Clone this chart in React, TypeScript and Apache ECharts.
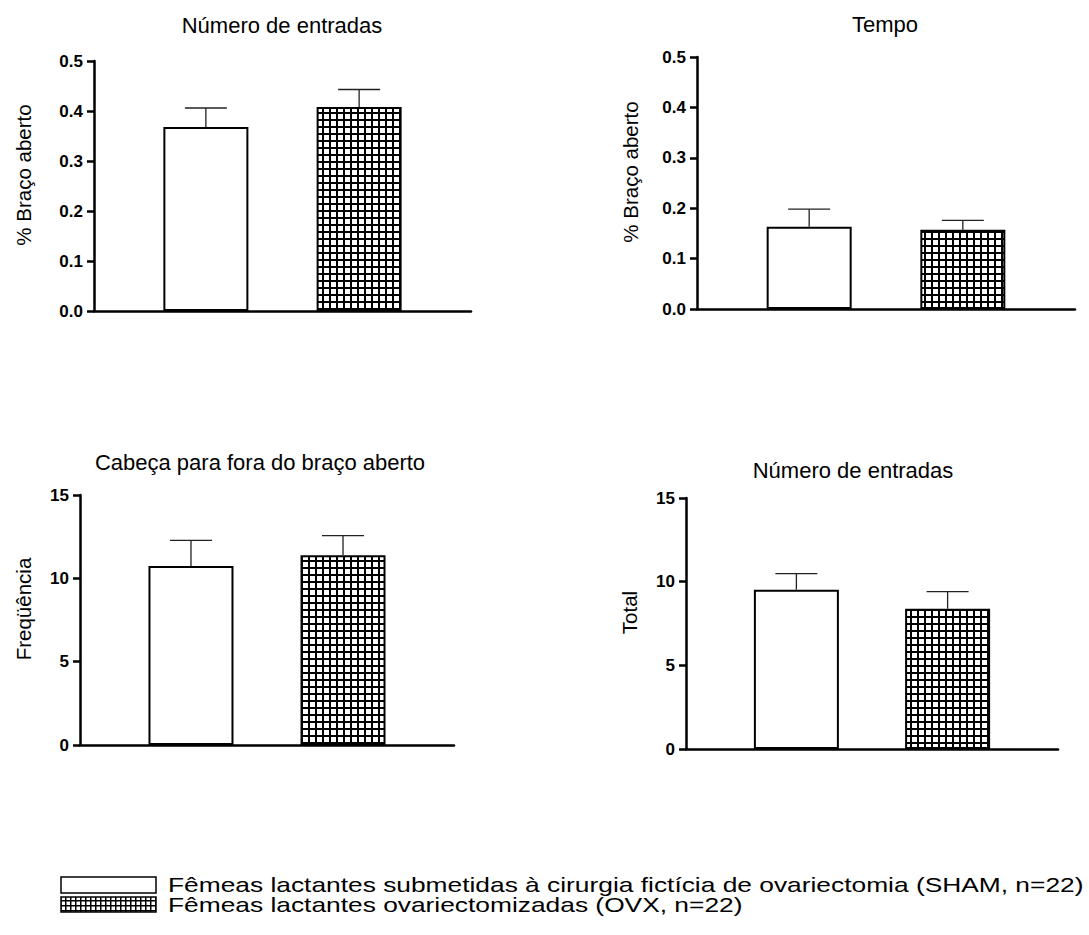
import React, { useEffect, useRef } from 'react';
import * as echarts from 'echarts';

// ---- data ----
const groups = ['SHAM', 'OVX'];
const groupPos = [1, 2];

const entradasPctMean = [0.368, 0.408];
const entradasPctErr = [0.038, 0.035];
const tempoPctMean = [0.163, 0.157];
const tempoPctErr = [0.035, 0.019];
const cabecaMean = [10.74, 11.38];
const cabecaErr = [1.54, 1.18];
const entradasTotMean = [9.52, 8.38];
const entradasTotErr = [0.96, 1.02];

const panelTitles = ['Número de entradas', 'Tempo', 'Cabeça para fora do braço aberto', 'Número de entradas'];
const yAxisNames = ['% Braço aberto', '% Braço aberto', 'Freqüência', 'Total'];
const yMaxes = [0.5, 0.5, 15, 15];
const yIntervals = [0.1, 0.1, 5, 5];
const yDecimals = [1, 1, 0, 0];
const legendLabels = [
  'Fêmeas lactantes submetidas à cirurgia fictícia de ovariectomia (SHAM, n=22)',
  'Fêmeas lactantes ovariectomizadas (OVX, n=22)',
];

const panelMeans = [entradasPctMean, tempoPctMean, cabecaMean, entradasTotMean];
const panelErrs = [entradasPctErr, tempoPctErr, cabecaErr, entradasTotErr];

// ---- layout ----
const grids = [
  { left: 94, top: 61, width: 377, height: 250 },
  { left: 697, top: 57, width: 378, height: 252 },
  { left: 80, top: 495, width: 374, height: 250 },
  { left: 686, top: 498, width: 372, height: 251 },
];
const titlePos = [
  [282, 25],
  [885, 24],
  [260, 462],
  [853, 470],
];
const nameGaps = [60, 56, 46, 46];
const FONT = '"Liberation Sans", Arial, Helvetica, sans-serif';

function makeGridPattern() {
  const c = document.createElement('canvas');
  c.width = 7;
  c.height = 7;
  const ctx = c.getContext('2d')!;
  ctx.fillStyle = '#ffffff';
  ctx.fillRect(0, 0, 7, 7);
  ctx.fillStyle = '#000000';
  ctx.fillRect(0, 0, 7, 2);
  ctx.fillRect(0, 0, 2, 7);
  return { image: c.toDataURL(), repeat: 'repeat', imageWidth: 7, imageHeight: 7 } as any;
}

function makeSmallPattern() {
  const c = document.createElement('canvas');
  c.width = 5;
  c.height = 5;
  const ctx = c.getContext('2d')!;
  ctx.fillStyle = '#ffffff';
  ctx.fillRect(0, 0, 5, 5);
  ctx.fillStyle = '#000000';
  ctx.fillRect(0, 0, 5, 1.5);
  ctx.fillRect(0, 0, 1.5, 5);
  return { image: c.toDataURL(), repeat: 'repeat', imageWidth: 5, imageHeight: 5 } as any;
}

export default function App() {
  const ref = useRef<HTMLDivElement>(null);
  useEffect(() => {
    if (!ref.current) return;
    const chart = echarts.init(ref.current, null, { renderer: 'svg' });
    const pattern = makeGridPattern();
    const smallPattern = makeSmallPattern();

    const xAxis: any[] = [];
    const yAxis: any[] = [];
    const series: any[] = [];
    grids.forEach((g, i) => {
      xAxis.push({
        type: 'value',
        gridIndex: i,
        min: 0.27,
        max: 2.73,
        axisLine: { show: true, onZero: false, lineStyle: { color: '#000', width: 2.5 } },
        axisTick: { show: false },
        axisLabel: { show: false },
        splitLine: { show: false },
      });
      yAxis.push({
        type: 'value',
        gridIndex: i,
        min: 0,
        max: yMaxes[i],
        interval: yIntervals[i],
        name: yAxisNames[i],
        nameLocation: 'middle',
        nameRotate: 90,
        nameGap: nameGaps[i],
        nameTextStyle: { fontFamily: FONT, fontSize: 20.5, color: '#000', padding: [0, 0, 0, 22] },
        axisLine: { show: true, lineStyle: { color: '#000', width: 2.5 } },
        axisTick: { show: true, length: 7, lineStyle: { color: '#000', width: 2.5 } },
        axisLabel: {
          margin: 11,
          fontFamily: FONT,
          fontSize: 17,
          fontWeight: 'bold',
          color: '#000',
          formatter: (v: number) => v.toFixed(yDecimals[i]),
        },
        splitLine: { show: false },
      });
      const means = panelMeans[i];
      const errs = panelErrs[i];
      series.push({
        type: 'bar',
        xAxisIndex: i,
        yAxisIndex: i,
        barWidth: 85,
        data: groups.map((gname, k) => ({
          name: gname,
          value: [groupPos[k], means[k]],
          itemStyle: {
            color: k === 0 ? '#ffffff' : pattern,
            borderColor: '#000',
            borderWidth: 2,
          },
        })),
      });
      series.push({
        type: 'custom',
        xAxisIndex: i,
        yAxisIndex: i,
        encode: { x: 0, y: 1 },
        data: groups.map((_, k) => [groupPos[k], means[k], errs[k]]),
        renderItem: (params: any, api: any) => {
          const x = api.value(0);
          const m = api.value(1);
          const e = api.value(2);
          const base = api.coord([x, m]);
          const top = api.coord([x, m + e]);
          const st = { stroke: '#222', lineWidth: 1.3 };
          return {
            type: 'group',
            children: [
              { type: 'line', shape: { x1: base[0], y1: base[1], x2: top[0], y2: top[1] }, style: st },
              { type: 'line', shape: { x1: top[0] - 21, y1: top[1], x2: top[0] + 21, y2: top[1] }, style: st },
            ],
          };
        },
        z: 3,
      });
    });

    const graphic: any[] = [];
    panelTitles.forEach((t, i) => {
      graphic.push({
        type: 'text',
        x: titlePos[i][0],
        y: titlePos[i][1],
        style: { text: t, fontFamily: FONT, fontSize: 22, fill: '#000', align: 'center', verticalAlign: 'middle' },
      });
    });
    // legend
    graphic.push({
      type: 'rect',
      shape: { x: 61, y: 877, width: 95, height: 16 },
      style: { fill: '#fff', stroke: '#000', lineWidth: 1.5 },
    });
    graphic.push({
      type: 'rect',
      shape: { x: 61, y: 897, width: 95, height: 15 },
      style: { fill: smallPattern, stroke: '#000', lineWidth: 1.5 },
    });
    legendLabels.forEach((t, k) => {
      graphic.push({
        type: 'text',
        x: 168,
        y: k === 0 ? 885 : 905,
        scaleX: 1.285,
        style: { text: t, fontFamily: FONT, fontSize: 20.5, fill: '#000', align: 'left', verticalAlign: 'middle' },
      });
    });

    chart.setOption({
      animation: false,
      backgroundColor: '#fff',
      grid: grids.map((g) => ({ ...g, containLabel: false })),
      xAxis,
      yAxis,
      series,
      graphic,
    });
    return () => chart.dispose();
  }, []);
  return (
    <div
      ref={ref}
      style={{ position: 'absolute', left: 0, top: 0, width: 1089, height: 935, background: '#fff' }}
    />
  );
}
